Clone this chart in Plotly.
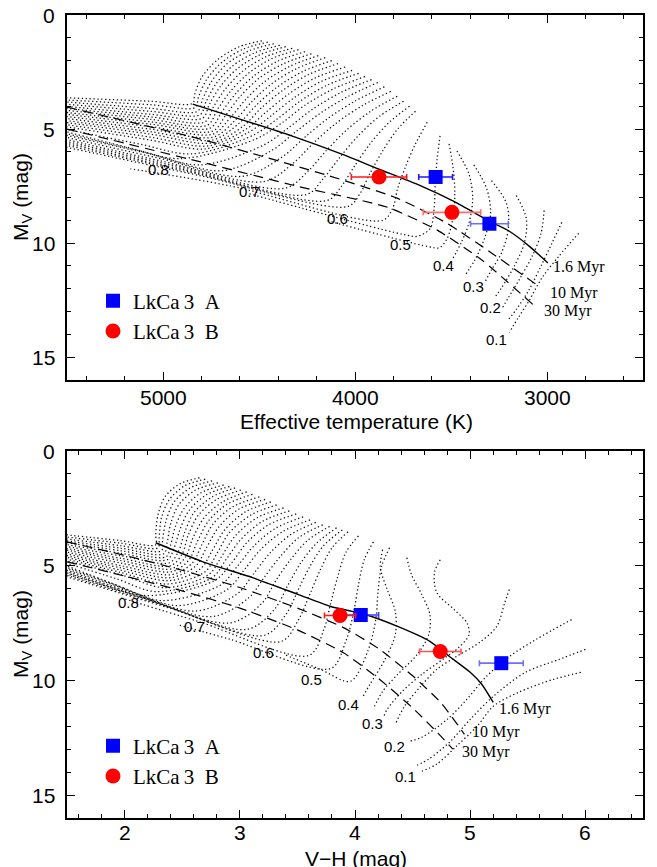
import plotly.graph_objects as go

# ---------------- DATA ----------------
# Upper panel: observed points (Teff [K], Mv [mag])
upA_teff = [3580, 3300]; upA_mv = [7.10, 9.15]; upA_err = [88, 98]
upB_teff = [3875, 3495]; upB_mv = [7.10, 8.65]; upB_err = [144, 150]
# Lower panel: observed points (V-H [mag], Mv [mag])
loA_vh = [4.05, 5.27]; loA_mv = [7.15, 9.25]; loA_err = [0.155, 0.19]
loB_vh = [3.87, 4.74]; loB_mv = [7.17, 8.74]; loB_err = [0.135, 0.18]

# Tick labels
u_xticks = [5000, 4000, 3000]
l_xticks = [2, 3, 4, 5, 6]
yticks = [0, 5, 10, 15]

# Upper panel evolutionary tracks (Teff, Mv)
u140_t = [4485, 4603, 4716, 4799, 4835, 4845, 5067, 5557]; u140_m = [1.13, 1.39, 1.96, 2.74, 3.48, 3.87, 3.78, 3.61]
u135_t = [4454, 4578, 4690, 4773, 4815, 4832, 5067, 5557]; u135_m = [1.19, 1.48, 2.05, 2.83, 3.59, 4.05, 3.93, 3.70]
u130_t = [4423, 4552, 4665, 4747, 4794, 4820, 5067, 5557]; u130_m = [1.26, 1.57, 2.13, 2.91, 3.70, 4.22, 4.09, 3.78]
u125_t = [4392, 4523, 4639, 4724, 4776, 4807, 5067, 5557]; u125_m = [1.33, 1.66, 2.24, 3.02, 3.81, 4.37, 4.22, 3.87]
u120_t = [4361, 4495, 4613, 4701, 4758, 4794, 5067, 5557]; u120_m = [1.39, 1.74, 2.35, 3.13, 3.91, 4.52, 4.35, 3.96]
u115_t = [4327, 4464, 4585, 4675, 4737, 4781, 5067, 5557]; u115_m = [1.46, 1.83, 2.46, 3.24, 4.02, 4.68, 4.46, 4.05]
u110_t = [4294, 4433, 4557, 4649, 4716, 4768, 5067, 5557]; u110_m = [1.52, 1.91, 2.57, 3.35, 4.13, 4.83, 4.57, 4.13]
u105_t = [4260, 4402, 4528, 4623, 4693, 4755, 5067, 5557]; u105_m = [1.61, 2.02, 2.68, 3.46, 4.24, 4.96, 4.68, 4.22]
u100_t = [4227, 4371, 4500, 4598, 4670, 4742, 5067, 5557]; u100_m = [1.70, 2.13, 2.78, 3.57, 4.35, 5.09, 4.78, 4.30]
u0975_t = [4191, 4337, 4469, 4569, 4647, 4740, 5067, 5557]; u0975_m = [1.78, 2.24, 2.91, 3.70, 4.48, 5.22, 4.89, 4.39]
u095_t = [4155, 4304, 4438, 4541, 4624, 4737, 5067, 5557]; u095_m = [1.87, 2.35, 3.04, 3.83, 4.61, 5.35, 5.00, 4.48]
u0925_t = [4121, 4273, 4407, 4515, 4603, 4742, 5067, 5557]; u0925_m = [2.00, 2.48, 3.17, 3.96, 4.74, 5.48, 5.11, 4.57]
u090_t = [4088, 4242, 4376, 4490, 4582, 4747, 5067, 5557]; u090_m = [2.13, 2.61, 3.30, 4.09, 4.87, 5.61, 5.22, 4.65]
u0875_t = [4051, 4208, 4345, 4461, 4567, 4765, 5067, 5557]; u0875_m = [2.28, 2.76, 3.46, 4.24, 5.00, 5.74, 5.35, 4.74]
u085_t = [4015, 4175, 4314, 4433, 4552, 4784, 5067, 5557]; u085_m = [2.43, 2.91, 3.61, 4.39, 5.13, 5.87, 5.48, 4.83]
u0825_t = [3981, 4141, 4283, 4404, 4533, 4850, 5120, 5557]; u0825_m = [2.56, 3.06, 3.76, 4.55, 5.28, 6.09, 5.66, 4.92]
u080_t = [3948, 4108, 4253, 4376, 4515, 4912, 5170, 5557]; u080_m = [2.70, 3.22, 3.91, 4.70, 5.43, 6.30, 5.83, 5.00]
u0775_t = [3914, 4072, 4216, 4340, 4476, 4804, 5120, 5557]; u0775_m = [2.83, 3.39, 4.10, 4.90, 5.70, 6.57, 5.96, 5.09]
u075_t = [3881, 4036, 4180, 4304, 4438, 4696, 5067, 5557]; u075_m = [2.96, 3.57, 4.30, 5.09, 5.96, 6.83, 6.09, 5.17]
u0725_t = [3847, 3997, 4139, 4260, 4379, 4585, 5040, 5557]; u0725_m = [3.15, 3.76, 4.52, 5.35, 6.22, 7.07, 6.24, 5.26]
u070_t = [3814, 3959, 4098, 4216, 4320, 4474, 5015, 5557]; u070_m = [3.35, 3.96, 4.74, 5.61, 6.48, 7.30, 6.39, 5.35]
u0675_t = [3780, 3915, 4041, 4146, 4242, 4363, 4960, 5557]; u0675_m = [3.56, 4.20, 5.02, 5.91, 6.82, 7.59, 6.57, 5.44]
u065_t = [3747, 3871, 3984, 4077, 4165, 4253, 4912, 5557]; u065_m = [3.78, 4.43, 5.30, 6.22, 7.17, 7.87, 6.74, 5.52]
u0625_t = [3716, 3824, 3920, 4000, 4070, 4145, 4860, 5557]; u0625_m = [4.00, 4.72, 5.63, 6.59, 7.50, 8.13, 6.89, 5.61]
u060_t = [3685, 3778, 3856, 3923, 3974, 4036, 4809, 5557]; u060_m = [4.22, 5.00, 5.96, 6.96, 7.83, 8.39, 7.04, 5.70]
u055_t = [3624, 3685, 3737, 3778, 3804, 3856, 4655, 5170]; u055_m = [4.70, 5.65, 6.65, 7.61, 8.48, 9.00, 7.48, 6.74]
u050_t = [3557, 3572, 3582, 3588, 3608, 3675, 3753, 4552]; u050_m = [5.30, 6.30, 7.39, 8.48, 9.35, 9.70, 9.61, 7.83]
u045_t = [3510, 3490, 3480, 3490, 3520, 3560, 3620, 4150]; u045_m = [5.65, 6.65, 7.80, 8.90, 9.80, 10.20, 10.15, 9.00]
u040_t = [3469, 3407, 3387, 3407, 3448, 3495]; u040_m = [5.96, 6.96, 8.04, 9.13, 10.00, 10.74]
u035_t = [3381, 3314, 3294, 3325, 3376, 3428]; u035_m = [6.57, 7.61, 8.70, 9.78, 10.74, 11.43]
u030_t = [3289, 3211, 3201, 3237, 3289, 3325]; u030_m = [7.26, 8.26, 9.35, 10.43, 11.17, 11.74]
u025_t = [3160, 3108, 3118, 3170, 3237, 3273]; u025_m = [7.91, 8.91, 10.00, 11.00, 11.96, 12.39]
u020_t = [3015, 3031, 3077, 3139, 3201, 3232]; u020_m = [8.57, 9.57, 10.57, 11.52, 12.39, 12.83]
u015_t = [2923, 2974, 3031, 3093, 3160, 3201]; u015_m = [9.09, 10.00, 11.00, 12.04, 12.91, 13.35]
u010_t = [2835, 2938, 3026, 3093, 3149, 3196]; u010_m = [9.57, 10.57, 11.52, 12.52, 13.26, 13.91]

# Upper panel isochrones
u_iso16_t = [4845, 4567, 4330, 4072, 3881, 3660, 3485, 3299, 3196, 3093, 2995]
u_iso16_m = [3.91, 4.65, 5.30, 6.09, 6.74, 7.48, 8.17, 9.04, 9.48, 10.13, 10.87]
u_iso10_t = [5500, 4809, 4139, 3778, 3521, 3289, 3046]
u_iso10_m = [4.04, 5.43, 7.04, 8.04, 9.13, 10.43, 11.87]
u_iso30_t = [5500, 4809, 4294, 3830, 3572, 3340, 3072]
u_iso30_m = [5.00, 6.43, 7.52, 8.43, 9.43, 10.74, 12.70]

# Lower panel evolutionary tracks (V-H, Mv)
l140_x = [2.65, 2.48, 2.35, 2.29, 2.27, 2.27, 1.97, 1.41]; l140_m = [1.17, 1.43, 2.00, 2.78, 3.65, 4.09, 3.91, 3.61]
l135_x = [2.70, 2.52, 2.39, 2.32, 2.30, 2.29, 1.97, 1.41]; l135_m = [1.23, 1.52, 2.11, 2.91, 3.76, 4.22, 4.02, 3.70]
l130_x = [2.76, 2.57, 2.43, 2.36, 2.33, 2.32, 1.97, 1.41]; l130_m = [1.30, 1.61, 2.22, 3.04, 3.87, 4.35, 4.13, 3.78]
l125_x = [2.81, 2.61, 2.47, 2.40, 2.37, 2.34, 1.97, 1.41]; l125_m = [1.39, 1.72, 2.35, 3.17, 3.98, 4.48, 4.24, 3.86]
l120_x = [2.86, 2.66, 2.52, 2.44, 2.40, 2.36, 1.97, 1.41]; l120_m = [1.48, 1.83, 2.48, 3.30, 4.09, 4.61, 4.35, 3.93]
l115_x = [2.91, 2.71, 2.56, 2.48, 2.43, 2.37, 1.97, 1.41]; l115_m = [1.55, 1.91, 2.59, 3.43, 4.22, 4.74, 4.46, 4.01]
l110_x = [2.96, 2.76, 2.60, 2.52, 2.47, 2.39, 1.97, 1.41]; l110_m = [1.61, 2.00, 2.70, 3.57, 4.35, 4.87, 4.57, 4.08]
l105_x = [3.01, 2.80, 2.64, 2.55, 2.50, 2.40, 1.97, 1.41]; l105_m = [1.70, 2.11, 2.80, 3.70, 4.48, 5.00, 4.68, 4.16]
l100_x = [3.06, 2.85, 2.69, 2.59, 2.53, 2.41, 1.97, 1.41]; l100_m = [1.78, 2.22, 2.91, 3.83, 4.61, 5.13, 4.78, 4.23]
l0975_x = [3.11, 2.89, 2.73, 2.63, 2.56, 2.41, 1.97, 1.41]; l0975_m = [1.89, 2.32, 3.04, 3.96, 4.74, 5.26, 4.89, 4.31]
l095_x = [3.17, 2.94, 2.77, 2.67, 2.59, 2.41, 1.97, 1.41]; l095_m = [2.00, 2.43, 3.17, 4.09, 4.87, 5.39, 5.00, 4.38]
l0925_x = [3.22, 2.99, 2.82, 2.71, 2.62, 2.40, 1.97, 1.41]; l0925_m = [2.11, 2.54, 3.30, 4.22, 5.00, 5.52, 5.10, 4.46]
l090_x = [3.27, 3.05, 2.87, 2.76, 2.66, 2.39, 1.97, 1.41]; l090_m = [2.22, 2.65, 3.43, 4.35, 5.13, 5.65, 5.20, 4.53]
l0875_x = [3.32, 3.10, 2.91, 2.80, 2.70, 2.37, 1.97, 1.41]; l0875_m = [2.35, 2.78, 3.56, 4.48, 5.26, 5.80, 5.30, 4.61]
l085_x = [3.38, 3.15, 2.96, 2.84, 2.73, 2.35, 1.97, 1.41]; l085_m = [2.48, 2.91, 3.70, 4.61, 5.39, 5.96, 5.40, 4.68]
l0825_x = [3.43, 3.20, 3.01, 2.88, 2.76, 2.27, 1.93, 1.41]; l0825_m = [2.61, 3.06, 3.85, 4.74, 5.52, 6.13, 5.57, 4.76]
l080_x = [3.49, 3.25, 3.06, 2.93, 2.78, 2.18, 1.88, 1.41]; l080_m = [2.74, 3.22, 4.00, 4.87, 5.65, 6.30, 5.75, 4.83]
l0775_x = [3.55, 3.31, 3.12, 2.98, 2.83, 2.32, 1.93, 1.41]; l0775_m = [2.87, 3.37, 4.15, 5.02, 5.85, 6.52, 5.85, 4.91]
l075_x = [3.61, 3.37, 3.18, 3.04, 2.89, 2.46, 1.97, 1.41]; l075_m = [3.00, 3.52, 4.30, 5.17, 6.04, 6.74, 5.95, 4.98]
l0725_x = [3.66, 3.44, 3.26, 3.12, 2.98, 2.61, 2.01, 1.41]; l0725_m = [3.11, 3.65, 4.46, 5.35, 6.22, 6.98, 6.08, 5.04]
l070_x = [3.72, 3.51, 3.35, 3.21, 3.08, 2.76, 2.05, 1.41]; l070_m = [3.22, 3.78, 4.61, 5.52, 6.39, 7.22, 6.20, 5.10]
l0675_x = [3.78, 3.59, 3.44, 3.31, 3.19, 2.91, 2.13, 1.41]; l0675_m = [3.29, 3.89, 4.74, 5.67, 6.65, 7.50, 6.35, 5.16]
l065_x = [3.84, 3.67, 3.53, 3.42, 3.30, 3.06, 2.22, 1.41]; l065_m = [3.35, 4.00, 4.87, 5.83, 6.91, 7.78, 6.50, 5.22]
l0625_x = [3.89, 3.73, 3.61, 3.51, 3.40, 3.21, 2.30, 1.41]; l0625_m = [3.44, 4.11, 5.02, 6.02, 7.13, 8.04, 6.67, 5.28]
l060_x = [3.94, 3.80, 3.70, 3.61, 3.51, 3.36, 2.39, 1.41]; l060_m = [3.52, 4.22, 5.17, 6.22, 7.35, 8.30, 6.85, 5.35]
l055_x = [4.03, 3.92, 3.85, 3.79, 3.73, 3.60, 2.65, 1.97]; l055_m = [3.70, 4.43, 5.48, 6.61, 7.78, 8.91, 7.45, 6.40]
l050_x = [4.16, 4.08, 4.03, 3.99, 3.92, 3.79, 2.91, 2.48]; l050_m = [3.96, 4.74, 5.83, 7.00, 8.30, 9.48, 8.20, 7.60]
l045_x = [4.30, 4.23, 4.20, 4.18, 4.11, 3.96, 3.70, 3.40]; l045_m = [4.22, 5.04, 6.13, 7.35, 8.74, 10.04, 9.52, 8.90]
l040_x = [4.24, 4.22, 4.28, 4.35, 4.35, 4.26, 4.13, 4.07]; l040_m = [4.30, 5.09, 6.04, 7.00, 8.00, 9.09, 10.17, 10.70]
l035_x = [4.45, 4.49, 4.58, 4.65, 4.64, 4.54, 4.37, 4.24, 4.17]; l035_m = [4.65, 5.39, 6.26, 7.13, 8.00, 8.87, 9.74, 10.48, 11.13]
l030_x = [4.74, 4.69, 4.71, 4.86, 4.97, 4.99, 4.90, 4.76, 4.58, 4.41, 4.28, 4.25]
l030_m = [4.74, 5.30, 6.17, 6.91, 7.48, 8.00, 8.57, 9.09, 9.74, 10.48, 11.26, 11.57]
l025_x = [5.34, 5.30, 5.23, 5.08, 4.88, 4.71, 4.57, 4.43, 4.35]; l025_m = [6.04, 6.61, 7.65, 8.35, 8.96, 9.52, 10.26, 11.13, 11.91]
l020_x = [5.88, 5.57, 5.34, 5.14, 4.97, 4.80, 4.58, 4.47]; l020_m = [7.35, 8.22, 8.96, 9.83, 10.83, 11.70, 12.48, 12.65]
l015_x = [6.00, 5.77, 5.48, 5.20, 5.00, 4.82, 4.64, 4.54]; l015_m = [8.65, 9.09, 9.65, 10.70, 11.70, 12.70, 13.43, 13.70]
l010_x = [5.96, 5.72, 5.42, 5.20, 5.06, 4.88, 4.71, 4.58]; l010_m = [9.65, 9.96, 10.52, 11.13, 12.00, 12.87, 13.65, 13.96]

# Lower panel isochrones
l_iso16_x = [2.27, 2.68, 3.11, 3.51, 3.79, 4.09, 4.37, 4.65, 4.82, 5.00, 5.10, 5.20]
l_iso16_m = [4.00, 4.83, 5.52, 6.26, 6.78, 7.13, 7.65, 8.30, 8.96, 9.65, 10.17, 10.96]
l_iso10_x = [1.50, 2.00, 2.50, 3.00, 3.50, 3.90, 4.20, 4.50, 4.75, 4.95]
l_iso10_m = [3.96, 4.55, 5.20, 5.95, 6.85, 7.70, 8.60, 9.80, 11.00, 12.35]
l_iso30_x = [1.50, 2.00, 2.50, 3.00, 3.50, 3.90, 4.20, 4.50, 4.72, 4.85]
l_iso30_m = [4.83, 5.45, 6.10, 6.85, 7.80, 8.80, 9.90, 11.20, 12.30, 13.00]

# Mass labels and their positions
mass_labels = ["0.8", "0.7", "0.6", "0.5", "0.4", "0.3", "0.2", "0.1"]
u_lab_t = [5026, 4552, 4093, 3763, 3541, 3381, 3294, 3263]
u_lab_m = [6.78, 7.74, 8.91, 10.04, 11.00, 11.91, 12.83, 14.22]
l_lab_x = [2.03, 2.61, 3.21, 3.62, 3.94, 4.15, 4.34, 4.44]
l_lab_m = [6.61, 7.65, 8.78, 9.96, 11.04, 11.87, 12.87, 14.17]
age_labels = ["1.6 Myr", "10 Myr", "30 Myr"]
u_age_t = [2979, 2995, 3026]; u_age_m = [11.04, 12.17, 12.96]
l_age_x = [5.23, 5.00, 4.91]; l_age_m = [11.26, 12.26, 13.13]

upper_tracks = [(u140_t, u140_m), (u135_t, u135_m), (u130_t, u130_m), (u125_t, u125_m),
                (u120_t, u120_m), (u115_t, u115_m), (u110_t, u110_m), (u105_t, u105_m),
                (u100_t, u100_m), (u0975_t, u0975_m), (u095_t, u095_m), (u0925_t, u0925_m),
                (u090_t, u090_m), (u0875_t, u0875_m), (u085_t, u085_m), (u0825_t, u0825_m),
                (u080_t, u080_m), (u0775_t, u0775_m), (u075_t, u075_m), (u0725_t, u0725_m),
                (u070_t, u070_m), (u0675_t, u0675_m), (u065_t, u065_m), (u0625_t, u0625_m),
                (u060_t, u060_m), (u055_t, u055_m), (u050_t, u050_m), (u045_t, u045_m),
                (u040_t, u040_m), (u035_t, u035_m), (u030_t, u030_m), (u025_t, u025_m),
                (u020_t, u020_m), (u015_t, u015_m), (u010_t, u010_m)]
lower_tracks = [(l140_x, l140_m), (l135_x, l135_m), (l130_x, l130_m), (l125_x, l125_m),
                (l120_x, l120_m), (l115_x, l115_m), (l110_x, l110_m), (l105_x, l105_m),
                (l100_x, l100_m), (l0975_x, l0975_m), (l095_x, l095_m), (l0925_x, l0925_m),
                (l090_x, l090_m), (l0875_x, l0875_m), (l085_x, l085_m), (l0825_x, l0825_m),
                (l080_x, l080_m), (l0775_x, l0775_m), (l075_x, l075_m), (l0725_x, l0725_m),
                (l070_x, l070_m), (l0675_x, l0675_m), (l065_x, l065_m), (l0625_x, l0625_m),
                (l060_x, l060_m), (l055_x, l055_m), (l050_x, l050_m), (l045_x, l045_m),
                (l040_x, l040_m), (l035_x, l035_m), (l030_x, l030_m), (l025_x, l025_m),
                (l020_x, l020_m), (l015_x, l015_m), (l010_x, l010_m)]

# ---------------- FIGURE ----------------
fig = go.Figure()
W, H = 657, 867

def add_panel(tracks, iso16, iso10, iso30, xa, ya):
    for tx, tm in tracks:
        fig.add_trace(go.Scatter(x=tx, y=tm, mode="lines", xaxis=xa, yaxis=ya,
                                 line=dict(color="#111", width=1.25, dash="1.3px,2.6px", shape="spline", smoothing=0.9),
                                 showlegend=False, hoverinfo="skip"))
    for iso in (iso10, iso30):
        fig.add_trace(go.Scatter(x=iso[0], y=iso[1], mode="lines", xaxis=xa, yaxis=ya,
                                 line=dict(color="black", width=1.2, dash="10px,6px", shape="spline", smoothing=0.6),
                                 showlegend=False, hoverinfo="skip"))
    fig.add_trace(go.Scatter(x=iso16[0], y=iso16[1], mode="lines", xaxis=xa, yaxis=ya,
                             line=dict(color="black", width=1.4, shape="spline", smoothing=0.6),
                             showlegend=False, hoverinfo="skip"))

add_panel(upper_tracks, (u_iso16_t, u_iso16_m), (u_iso10_t, u_iso10_m), (u_iso30_t, u_iso30_m), "x", "y")
add_panel(lower_tracks, (l_iso16_x, l_iso16_m), (l_iso10_x, l_iso10_m), (l_iso30_x, l_iso30_m), "x2", "y2")

def add_points(xs, ys, errs, color, ecolors, symbol, size, name, xa, ya, legend):
    for i in range(len(xs)):
        fig.add_trace(go.Scatter(
            x=[xs[i]], y=[ys[i]], mode="markers", xaxis=xa, yaxis=ya, name=name,
            marker=dict(color=color, symbol=symbol, size=size, line=dict(width=0)),
            error_x=dict(type="data", array=[errs[i]], color=ecolors[i], thickness=1.6, width=3),
            showlegend=(i == 0), legend=legend))

nameA = "LkCa\u20093\u2002A"
nameB = "LkCa\u20093\u2002B"
add_points(upA_teff, upA_mv, upA_err, "#0000ff", ["#1a1aff", "#6f6fff"], "square", 14, nameA, "x", "y", "legend")
add_points(upB_teff, upB_mv, upB_err, "#ff0000", ["#ff1a1a", "#ff6f6f"], "circle", 15, nameB, "x", "y", "legend")
add_points(loA_vh, loA_mv, loA_err, "#0000ff", ["#3a3aff", "#6f6fff"], "square", 14, nameA, "x2", "y2", "legend2")
add_points(loB_vh, loB_mv, loB_err, "#ff0000", ["#ff1a1a", "#ff5050"], "circle", 15, nameB, "x2", "y2", "legend2")

ann = []
lab_font = dict(family="Liberation Sans", size=15, color="black")
age_font = dict(family="Liberation Serif", size=16, color="black")
for lab, t, m in zip(mass_labels, u_lab_t, u_lab_m):
    ann.append(dict(x=t, y=m, xref="x", yref="y", text=lab, showarrow=False, font=lab_font))
for lab, t, m in zip(mass_labels, l_lab_x, l_lab_m):
    ann.append(dict(x=t, y=m, xref="x2", yref="y2", text=lab, showarrow=False, font=lab_font))
for lab, t, m in zip(age_labels, u_age_t, u_age_m):
    ann.append(dict(x=t, y=m, xref="x", yref="y", text=lab, showarrow=False, xanchor="left", font=age_font))
for lab, t, m in zip(age_labels, l_age_x, l_age_m):
    ann.append(dict(x=t, y=m, xref="x2", yref="y2", text=lab, showarrow=False, xanchor="left", font=age_font))

# tick labels (placed as text next to the frame, as in the original)
tick_font = dict(family="Liberation Sans", size=21, color="black")
for v in u_xticks:
    ann.append(dict(x=v, y=1 - 397 / H, xref="x", yref="paper", text=str(v), showarrow=False,
                    xanchor="center", yanchor="middle", font=tick_font))
for v in l_xticks:
    ann.append(dict(x=v, y=1 - 832 / H, xref="x2", yref="paper", text=str(v), showarrow=False,
                    xanchor="center", yanchor="middle", font=tick_font))
for v in yticks:
    ann.append(dict(x=57 / W, y=v, xref="paper", yref="y", text=str(v), showarrow=False,
                    xanchor="right", yanchor="middle", font=tick_font))
    ann.append(dict(x=57 / W, y=v, xref="paper", yref="y2", text=str(v), showarrow=False,
                    xanchor="right", yanchor="middle", font=tick_font))

title_font = dict(family="Liberation Sans", size=21, color="black")
ann.append(dict(x=356 / W, y=1 - 421 / H, xref="paper", yref="paper", text="Effective temperature (K)",
                showarrow=False, xanchor="center", yanchor="middle", font=title_font))
ann.append(dict(x=356 / W, y=1 - 858 / H, xref="paper", yref="paper", text="V\u2212H (mag)",
                showarrow=False, xanchor="center", yanchor="middle", font=title_font))
ann.append(dict(x=22 / W, y=1 - 197 / H, xref="paper", yref="paper", text="M<sub>V</sub> (mag)",
                showarrow=False, textangle=-90, xanchor="center", yanchor="middle", font=title_font))
ann.append(dict(x=22 / W, y=1 - 634 / H, xref="paper", yref="paper", text="M<sub>V</sub> (mag)",
                showarrow=False, textangle=-90, xanchor="center", yanchor="middle", font=title_font))

axis_common = dict(showline=True, linecolor="black", linewidth=1.5, mirror="allticks",
                   ticks="inside", ticklen=8, tickwidth=1.2, tickcolor="black",
                   showgrid=False, zeroline=False, showticklabels=False)
xd = [67 / W, 643 / W]
fig.update_layout(
    width=W, height=H, margin=dict(l=0, r=0, t=0, b=0),
    plot_bgcolor="white", paper_bgcolor="white",
    xaxis=dict(domain=xd, range=[5500, 2500], tickmode="array", tickvals=u_xticks,
               minor=dict(dtick=200, tick0=0, ticklen=4, ticks="inside", tickcolor="black"),
               anchor="y", **axis_common),
    yaxis=dict(domain=[1 - 380 / H, 1 - 15 / H], range=[16, 0], tickvals=yticks,
               minor=dict(dtick=1, ticklen=4, ticks="inside", tickcolor="black"),
               anchor="x", **axis_common),
    xaxis2=dict(domain=xd, range=[1.5, 6.5], tickvals=l_xticks,
                minor=dict(dtick=0.2, tick0=0, ticklen=4, ticks="inside", tickcolor="black"),
                anchor="y2", **axis_common),
    yaxis2=dict(domain=[1 - 818 / H, 1 - 451 / H], range=[16, 0], tickvals=yticks,
                minor=dict(dtick=1, ticklen=4, ticks="inside", tickcolor="black"),
                anchor="x2", **axis_common),
    legend=dict(x=93 / W, y=1 - 316 / H, xanchor="left", yanchor="middle", bgcolor="rgba(0,0,0,0)",
                font=dict(family="Liberation Serif", size=21, color="black"), itemwidth=30),
    legend2=dict(x=93 / W, y=1 - 761 / H, xanchor="left", yanchor="middle", bgcolor="rgba(0,0,0,0)",
                 font=dict(family="Liberation Serif", size=21, color="black"), itemwidth=30),
    annotations=ann,
    showlegend=True,
)

fig.write_html("out.html")
